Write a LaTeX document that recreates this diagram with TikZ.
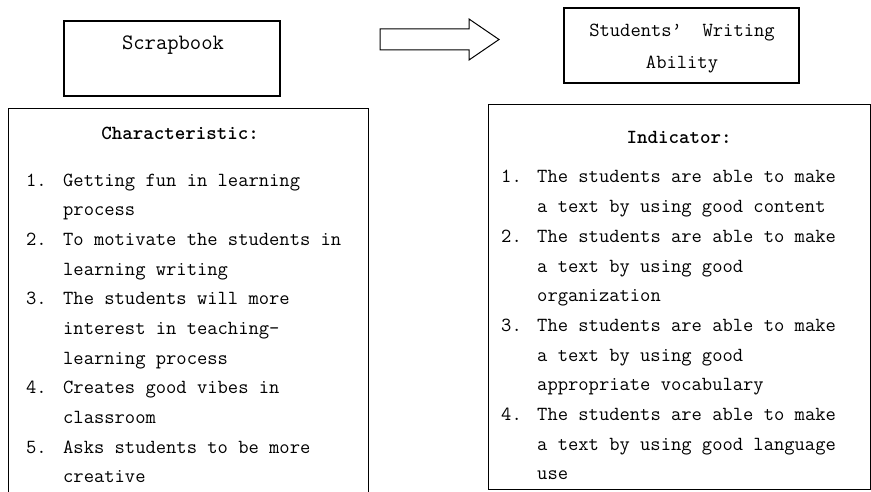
\documentclass[tikz,border=0pt]{standalone}
\usepackage{array}
\usetikzlibrary{positioning,calc}

\tikzset{
  frame/.style={draw, line width=1.2pt, inner sep=0pt},
  txt/.style={inner sep=0pt, font=\ttfamily\fontsize{20}{29.7}\selectfont},
  head/.style={inner sep=0pt, font=\ttfamily\bfseries\fontsize{20}{24}\selectfont},
}

\begin{document}
\begin{tikzpicture}[x=1pt, y=-1pt]
  \useasboundingbox (0,0) rectangle (871,492);

  % frames
  \node[frame, minimum width=216pt, minimum height=75pt] (scrap) at (172,58.5) {};
  \node[frame, minimum width=235pt, minimum height=75pt] (ability) at (681.5,45.5) {};
  \node[frame, minimum width=360pt, minimum height=400pt, anchor=north west] (charbox) at (8,108) {};
  \node[frame, minimum width=382pt, minimum height=385pt, anchor=north west] (indbox) at (488,104) {};

  % titles
  \node[inner sep=0pt, font=\ttfamily\fontsize{22}{26}\selectfont, anchor=base] (scraplbl) at (173,50) {Scrapbook};
  \node[txt, anchor=base] (abilitylbl) at (682,37) {Students’\ \ Writing};
  \node[txt, anchor=base] (abilitylbl2) at (682,69) {Ability};

  % big arrow between the two title boxes
  \coordinate (arrowtail) at (380,29);
  \draw[line width=1pt] (arrowtail) -- ++(89,0) -- ++(0,-10) -- ++(30,20.5)
    -- ++(-30,20.5) -- ++(0,-10) -- ++(-89,0) -- cycle;

  % characteristic list
  \node[head, anchor=base] (charhead) at (180,140) {Characteristic:};
  \node[txt, anchor=base west] (charlist) at (26,186) {%
    \begin{tabular}[t]{@{}p{37pt}@{}l@{}}
      1. & Getting fun in learning\\
         & process\\
      2. & To motivate the students in\\
         & learning writing\\
      3. & The students will more\\
         & interest in teaching-\\
         & learning process\\
      4. & Creates good vibes in\\
         & classroom\\
      5. & Asks students to be more\\
         & creative
    \end{tabular}};

  % indicator list
  \node[head, anchor=base] (indhead) at (679,144) {Indicator:};
  \node[txt, anchor=base west] (indlist) at (501,183) {%
    \begin{tabular}[t]{@{}p{36pt}@{}l@{}}
      1. & The students are able to make\\
         & a text by using good content\\
      2. & The students are able to make\\
         & a text by using good\\
         & organization\\
      3. & The students are able to make\\
         & a text by using good\\
         & appropriate vocabulary\\
      4. & The students are able to make\\
         & a text by using good language\\
         & use
    \end{tabular}};
\end{tikzpicture}
\end{document}
